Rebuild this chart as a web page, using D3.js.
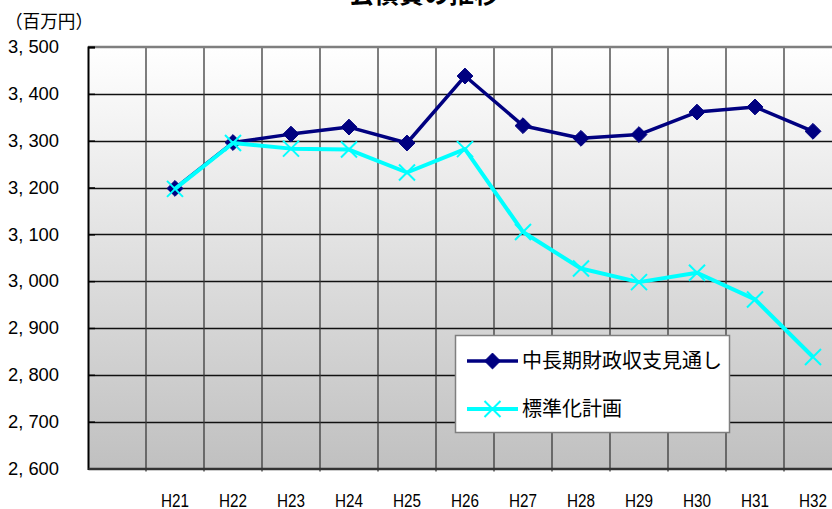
<!DOCTYPE html>
<html>
<head>
<meta charset="utf-8">
<script src="https://cdn.jsdelivr.net/npm/d3@7"></script>
<style>
  html, body { margin: 0; padding: 0; background: #fff; }
  svg { display: block; }
  .tick-num { font-family: "Liberation Sans", Arial, sans-serif; fill: #000; }
  .jp { font-family: "Noto Sans CJK JP", "Noto Sans CJK SC", sans-serif; fill: #000; }
</style>
</head>
<body>
<svg id="chart" width="832" height="509"></svg>
<script>
// 年度（先頭の空き区分は軸の余白）
const categories = ["H21", "H22", "H23", "H24", "H25", "H26", "H27", "H28", "H29", "H30", "H31", "H32"];

// 中長期財政収支見通し（百万円）
const outlookValues = [3198, 3296, 3314, 3329, 3295, 3438, 3332, 3305, 3313, 3361, 3372, 3320];

// 標準化計画（百万円）
const planValues = [3197, 3295, 3283, 3281, 3232, 3282, 3105, 3027, 2998, 3018, 2961, 2838];

const seriesNames = ["中長期財政収支見通し", "標準化計画"];
const yTicks = [2600, 2700, 2800, 2900, 3000, 3100, 3200, 3300, 3400, 3500];
const title = "公債費の推移";
const unitLabel = "（百万円）";

const svg = d3.select("#chart");
const plot = { left: 88, top: 47, bottom: 468.5 };
const band = 58;
const slots = [" ", ...categories];
plot.right = plot.left + band * slots.length;

const x = d3.scaleBand().domain(slots).range([plot.left, plot.right]);
const y = d3.scaleLinear().domain([2600, 3500]).range([plot.bottom, plot.top]);

// 背景グラデーション
const defs = svg.append("defs");
const grad = defs.append("linearGradient").attr("id", "bg").attr("x1", 0).attr("y1", 0).attr("x2", 0).attr("y2", 1);
grad.append("stop").attr("offset", "0%").attr("stop-color", "#ffffff");
grad.append("stop").attr("offset", "100%").attr("stop-color", "#c0c0c0");

svg.append("rect")
  .attr("x", plot.left).attr("y", plot.top)
  .attr("width", plot.right - plot.left).attr("height", plot.bottom - plot.top)
  .attr("fill", "url(#bg)");

// タイトル（上端）
svg.append("text").attr("class", "jp")
  .attr("x", 424).attr("y", 3)
  .attr("text-anchor", "middle")
  .attr("font-size", 25).attr("font-weight", "bold")
  .text(title);

// 単位
svg.append("text").attr("class", "jp")
  .attr("x", 5).attr("y", 28)
  .attr("font-size", 18)
  .attr("textLength", 88).attr("lengthAdjust", "spacingAndGlyphs")
  .text(unitLabel);

// 横グリッド
svg.append("g").selectAll("line")
  .data(yTicks.filter(v => v > 2600 && v < 3500))
  .join("line")
  .attr("x1", plot.left).attr("x2", plot.right)
  .attr("y1", d => Math.round(y(d)) + 0.5).attr("y2", d => Math.round(y(d)) + 0.5)
  .attr("stroke", "#111").attr("stroke-width", 1.3);

// 縦グリッド（区分境界）
svg.append("g").selectAll("line")
  .data(slots.slice(1))
  .join("line")
  .attr("x1", d => x(d)).attr("x2", d => x(d))
  .attr("y1", plot.top).attr("y2", plot.bottom + 3)
  .attr("stroke", "#3a3a3a").attr("stroke-width", 1.3);

// 上枠
svg.append("line")
  .attr("x1", plot.left).attr("x2", plot.right)
  .attr("y1", plot.top).attr("y2", plot.top)
  .attr("stroke", "#7f7f7f").attr("stroke-width", 2.5);

// Y軸
const yAxis = d3.axisLeft(y).tickValues(yTicks).tickSize(-7)
  .tickFormat(d => d3.format(",")(d).replace(",", ", "));
const gy = svg.append("g").attr("transform", `translate(${plot.left},0)`).call(yAxis);
gy.select(".domain").attr("stroke", "#000").attr("stroke-width", 2);
gy.selectAll(".tick line").attr("stroke", "#000").attr("stroke-width", 1.5);
gy.selectAll(".tick text").attr("class", "tick-num").attr("font-size", 18)
  .attr("text-anchor", "end")
  .attr("x", 59 - plot.left)
  .attr("textLength", 51).attr("lengthAdjust", "spacingAndGlyphs");

// X軸
const xAxis = d3.axisBottom(x).tickSize(0).tickPadding(26);
const gx = svg.append("g").attr("transform", `translate(0,${plot.bottom})`).call(xAxis);
gx.select(".domain").attr("stroke", "#333").attr("stroke-width", 2.5);
gx.selectAll(".tick text").attr("class", "tick-num").attr("font-size", 18)
  .attr("textLength", d => d.trim() ? 28 : null).attr("lengthAdjust", "spacingAndGlyphs");

// 系列
const lineGen = d3.line().x((d, i) => x(categories[i]) + band / 2).y(d => y(d));

const diamond = d3.symbol().type(d3.symbolDiamond2).size(160);

function drawSeries(values, color, width, marker) {
  svg.append("path").datum(values)
    .attr("d", lineGen).attr("fill", "none")
    .attr("stroke", color).attr("stroke-width", width)
    .attr("stroke-linejoin", "round");
  const g = svg.append("g");
  values.forEach((v, i) => {
    const cx = x(categories[i]) + band / 2, cy = y(v);
    marker(g, cx, cy);
  });
}

function drawDiamond(g, cx, cy) {
  g.append("path").attr("d", diamond())
    .attr("transform", `translate(${cx},${cy})`)
    .attr("fill", "#000080").attr("stroke", "#000080").attr("stroke-width", 1);
}
function drawCross(g, cx, cy) {
  const r = 8;
  g.append("path")
    .attr("d", `M${cx - r},${cy - r}L${cx + r},${cy + r}M${cx - r},${cy + r}L${cx + r},${cy - r}`)
    .attr("stroke", "#00ffff").attr("stroke-width", 2).attr("fill", "none");
}

drawSeries(outlookValues, "#000080", 3.5, drawDiamond);
drawSeries(planValues, "#00ffff", 4, drawCross);

// 凡例
const legend = svg.append("g");
legend.append("rect")
  .attr("x", 455.5).attr("y", 335.5).attr("width", 274).attr("height", 97)
  .attr("fill", "#fff").attr("stroke", "#7f7f7f").attr("stroke-width", 1.5);

const legendItems = [
  { name: seriesNames[0], color: "#000080", width: 3.5, marker: drawDiamond, y: 361 },
  { name: seriesNames[1], color: "#00ffff", width: 4, marker: drawCross, y: 409 }
];
legendItems.forEach(it => {
  legend.append("line")
    .attr("x1", 467).attr("x2", 518).attr("y1", it.y).attr("y2", it.y)
    .attr("stroke", it.color).attr("stroke-width", it.width);
  it.marker(legend, 492.5, it.y);
  legend.append("text").attr("class", "jp")
    .attr("x", 522).attr("y", it.y + 7)
    .attr("font-size", 20)
    .text(it.name);
});
</script>
</body>
</html>
